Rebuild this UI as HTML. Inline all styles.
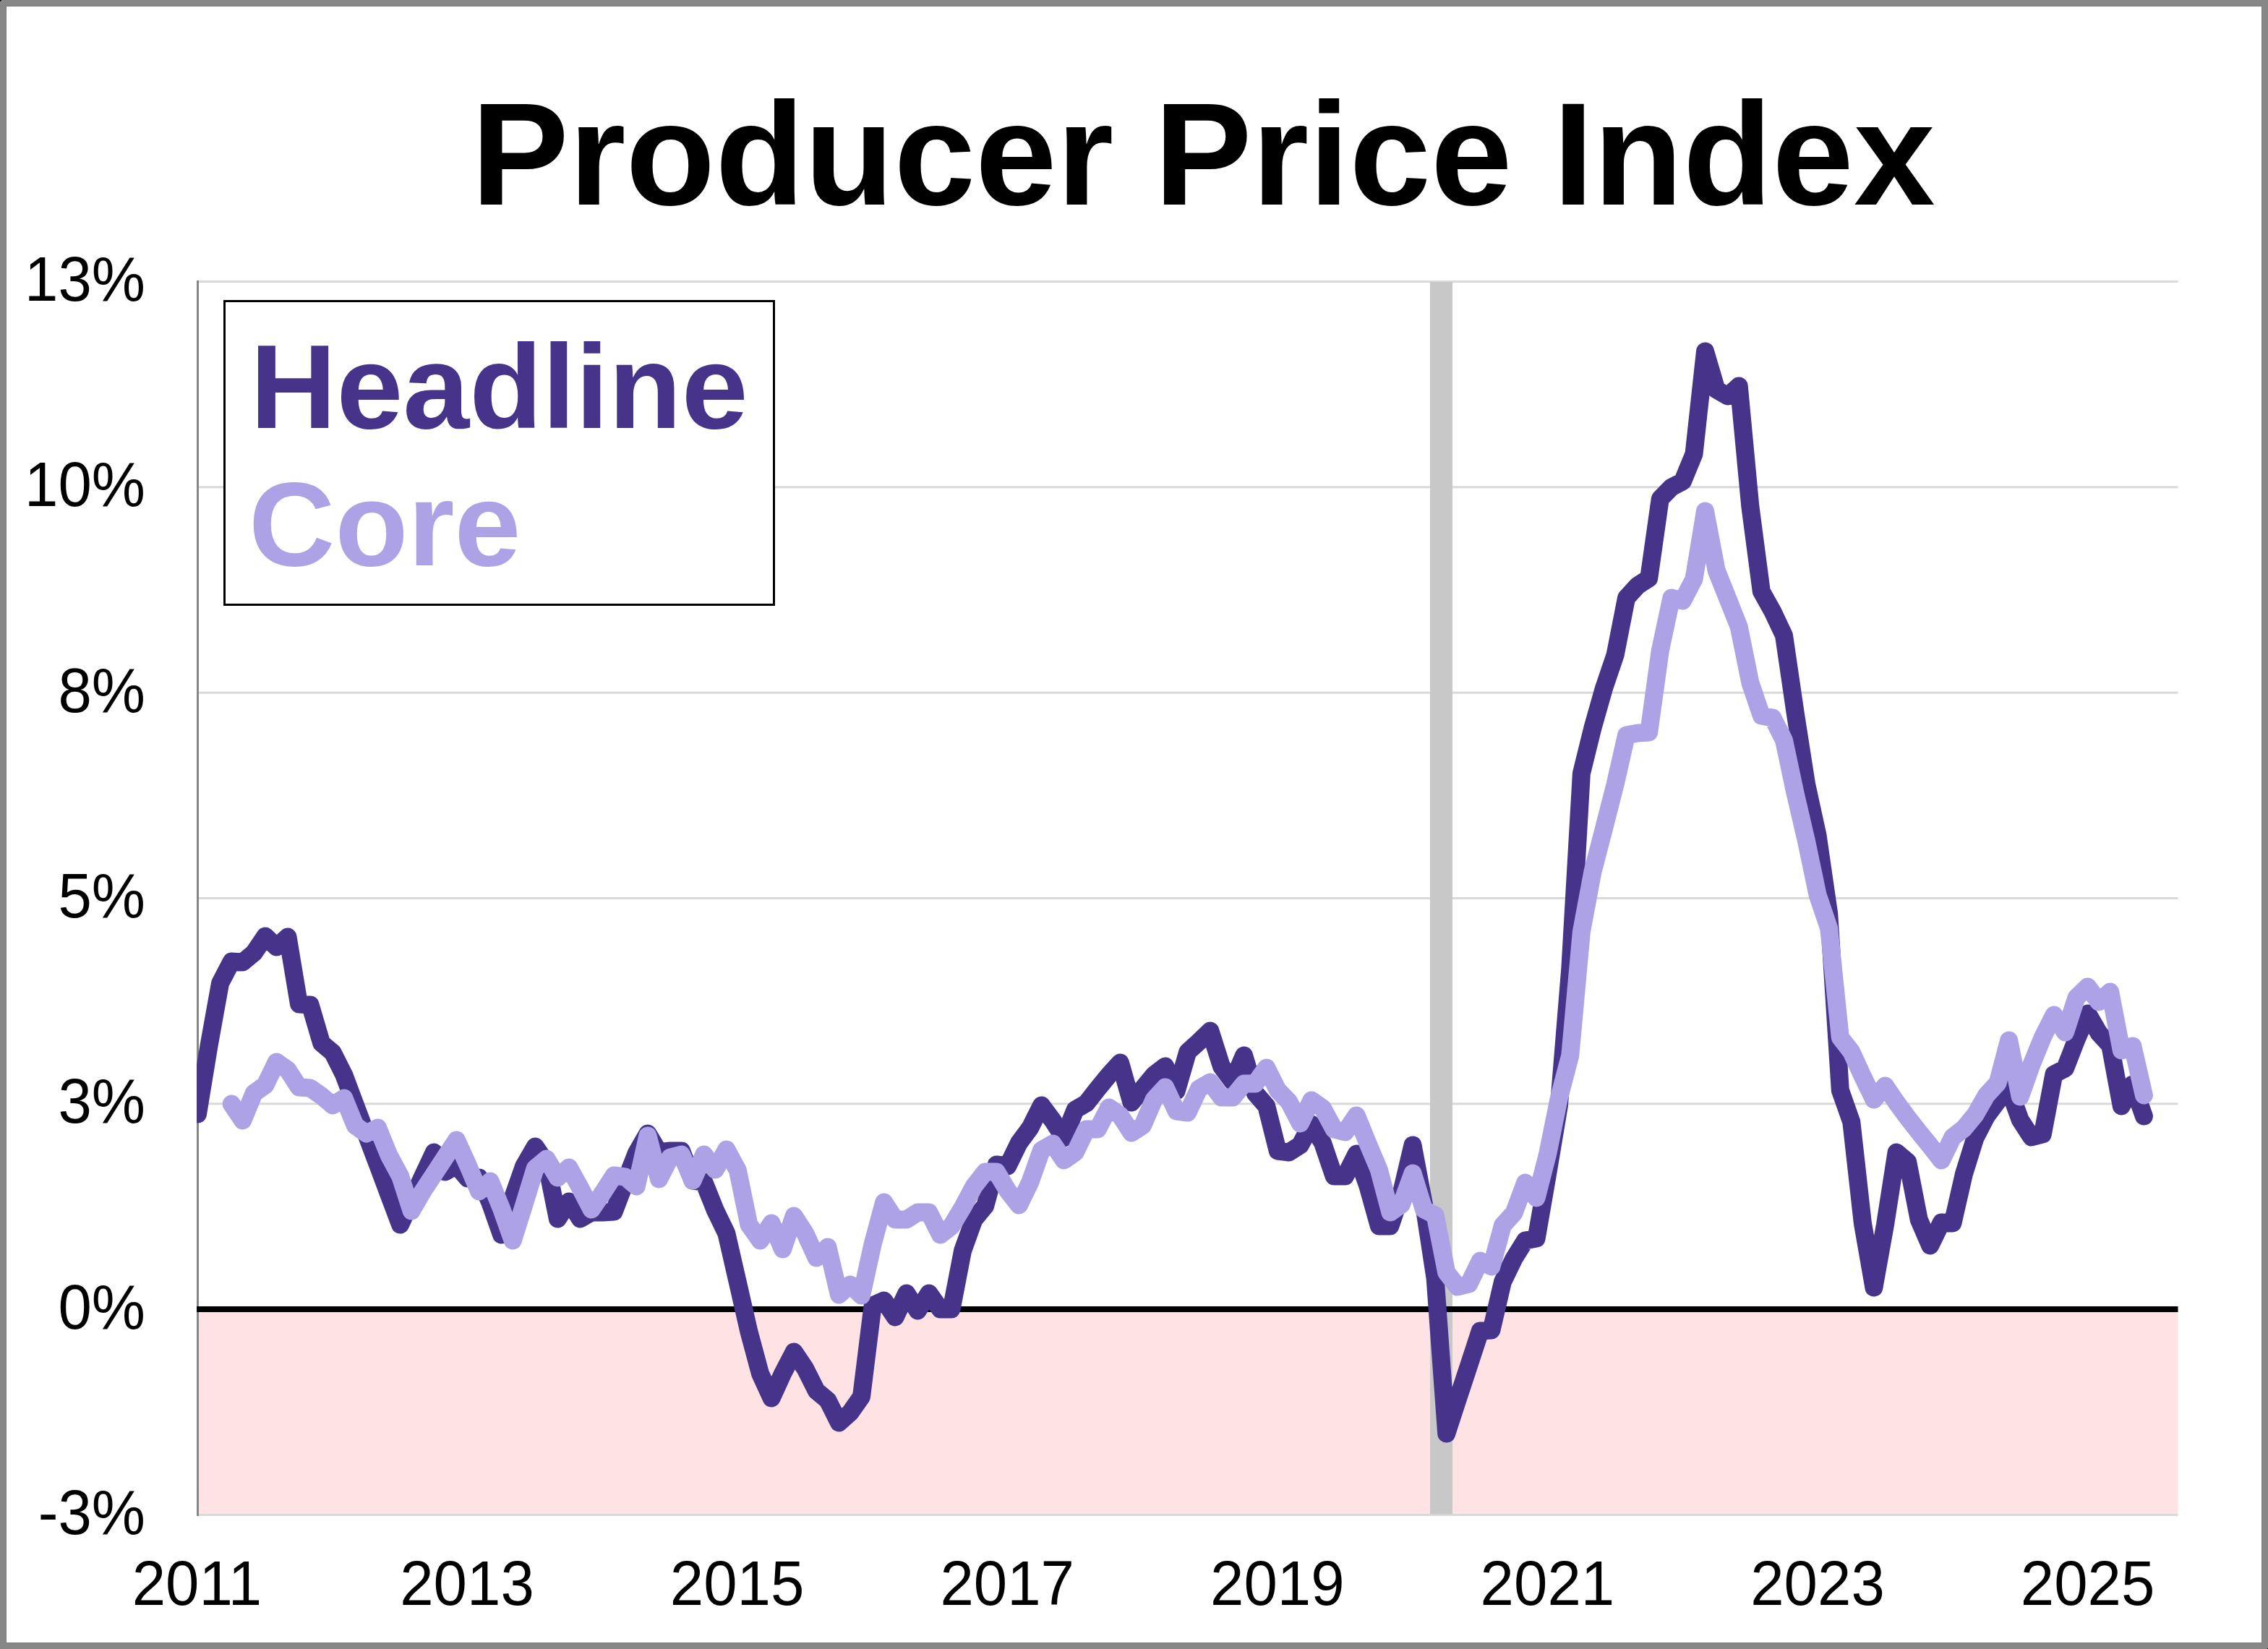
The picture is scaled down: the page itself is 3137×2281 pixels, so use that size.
<!DOCTYPE html>
<html><head><meta charset="utf-8"><style>
html,body{margin:0;padding:0;background:#fff;}
#c{position:relative;width:3137px;height:2281px;background:#fff;overflow:hidden;}
svg{position:absolute;left:0;top:0;font-family:"Liberation Sans",sans-serif;}
</style></head><body><div id="c"><svg width="3137" height="2281" viewBox="0 0 3137 2281">
<rect x="4.5" y="4.5" width="3128" height="2272" fill="none" stroke="#878787" stroke-width="9"/>
<rect x="8.5" y="8.5" width="3120" height="2264" fill="none" stroke="#7c7c7c" stroke-width="1"/>
<rect x="0" y="0" width="2" height="1" fill="#000"/><rect x="0" y="1" width="1" height="1" fill="#000"/><rect x="3136" y="2280" width="1" height="1" fill="#000"/>
<rect x="273.5" y="1811.1666666666667" width="2739.0" height="284.33333333333326" fill="#ffe2e4"/>
<rect x="273.5" y="388.0" width="2739.0" height="3" fill="#d9d9d9"/>
<rect x="273.5" y="672.3333333333333" width="2739.0" height="3" fill="#d9d9d9"/>
<rect x="273.5" y="956.6666666666666" width="2739.0" height="3" fill="#d9d9d9"/>
<rect x="273.5" y="1241.0" width="2739.0" height="3" fill="#d9d9d9"/>
<rect x="273.5" y="1525.3333333333333" width="2739.0" height="3" fill="#d9d9d9"/>
<rect x="273.5" y="2094.0" width="2739.0" height="3" fill="#d9d9d9"/>
<rect x="1978" y="390.0" width="31" height="1704.5" fill="#c8c8c8"/>
<rect x="272" y="388.0" width="3" height="1709.0" fill="#868686"/>
<rect x="272" y="1807" width="2740.5" height="8" fill="#000"/>
<clipPath id="pc"><rect x="272" y="0" width="2800" height="2281"/></clipPath>
<path clip-path="url(#pc)" d="M273.5,1541.0 L289.1,1446.0 L304.6,1360.0 L320.2,1330.0 L335.7,1331.0 L351.3,1318.0 L366.9,1295.0 L382.4,1310.0 L398.0,1296.0 L413.5,1389.0 L429.1,1390.0 L444.7,1443.0 L460.2,1456.0 L475.8,1487.0 L491.3,1528.4 L506.9,1569.8 L522.5,1611.2 L538.0,1652.6 L553.6,1694.0 L569.1,1660.7 L584.7,1627.3 L600.3,1594.0 L615.8,1621.0 L631.4,1612.0 L646.9,1630.0 L662.5,1629.0 L678.1,1664.0 L693.6,1708.0 L709.2,1657.0 L724.7,1613.0 L740.3,1586.0 L755.9,1609.0 L771.4,1686.0 L787.0,1662.0 L802.5,1686.0 L818.1,1677.0 L833.7,1677.0 L849.2,1676.0 L864.8,1635.0 L880.3,1595.0 L895.9,1568.0 L911.5,1594.0 L927.0,1592.0 L942.6,1592.0 L958.1,1633.0 L973.7,1635.0 L989.3,1674.0 L1004.8,1706.0 L1020.4,1774.0 L1035.9,1842.0 L1051.5,1900.0 L1067.1,1934.0 L1082.6,1900.0 L1098.2,1870.0 L1113.7,1893.0 L1129.3,1924.0 L1144.9,1937.0 L1160.4,1968.0 L1176.0,1954.0 L1191.5,1932.0 L1207.1,1806.0 L1222.7,1799.0 L1238.2,1822.0 L1253.8,1789.0 L1269.3,1813.0 L1284.9,1789.0 L1300.5,1811.0 L1316.0,1811.0 L1331.6,1730.0 L1347.1,1687.0 L1362.7,1668.0 L1378.3,1611.0 L1393.8,1613.0 L1409.4,1581.0 L1424.9,1560.0 L1440.5,1529.0 L1456.1,1550.0 L1471.6,1574.0 L1487.2,1535.0 L1502.7,1526.0 L1518.3,1506.0 L1533.9,1487.0 L1549.4,1470.0 L1565.0,1525.0 L1580.5,1506.0 L1596.1,1487.0 L1611.7,1475.0 L1627.2,1509.0 L1642.8,1455.0 L1658.3,1441.0 L1673.9,1426.0 L1689.5,1475.0 L1705.0,1496.0 L1720.6,1460.0 L1736.1,1512.0 L1751.7,1530.0 L1767.3,1592.0 L1782.8,1594.0 L1798.4,1584.0 L1813.9,1555.0 L1829.5,1581.0 L1845.1,1627.0 L1860.6,1627.0 L1876.2,1596.0 L1891.7,1640.0 L1907.3,1696.0 L1922.9,1696.0 L1938.4,1650.0 L1954.0,1584.0 L1969.5,1666.0 L1985.1,1768.0 L2000.7,1983.0 L2016.2,1935.7 L2031.8,1888.3 L2047.3,1841.0 L2062.9,1840.0 L2078.5,1773.0 L2094.0,1741.0 L2109.6,1716.0 L2125.1,1713.0 L2140.7,1623.0 L2156.3,1530.0 L2171.8,1340.0 L2187.4,1070.0 L2202.9,1007.0 L2218.5,952.0 L2234.1,906.0 L2249.6,827.0 L2265.2,810.0 L2280.7,800.0 L2296.3,690.0 L2311.9,674.0 L2327.4,666.0 L2343.0,628.0 L2358.5,486.0 L2374.1,539.0 L2389.7,548.0 L2405.2,534.0 L2420.8,700.0 L2436.3,818.0 L2451.9,846.0 L2467.5,879.0 L2483.0,985.0 L2498.6,1085.0 L2514.1,1156.0 L2529.7,1264.0 L2545.3,1508.0 L2560.8,1552.0 L2576.4,1692.0 L2591.9,1781.0 L2607.5,1694.0 L2623.1,1594.0 L2638.6,1607.0 L2654.2,1687.0 L2669.7,1723.0 L2685.3,1691.0 L2700.9,1692.0 L2716.4,1624.0 L2732.0,1574.0 L2747.5,1544.0 L2763.1,1523.0 L2778.7,1506.0 L2794.2,1549.0 L2809.8,1573.0 L2825.3,1569.0 L2840.9,1486.0 L2856.5,1478.0 L2872.0,1438.0 L2887.6,1402.0 L2903.1,1429.0 L2918.7,1446.0 L2934.3,1530.0 L2949.8,1500.0 L2965.4,1544.0" fill="none" stroke="#46348b" stroke-width="25" stroke-linejoin="round" stroke-linecap="round"/>
<path clip-path="url(#pc)" d="M320.2,1527.0 L335.7,1550.0 L351.3,1512.0 L366.9,1501.0 L382.4,1469.0 L398.0,1480.0 L413.5,1504.0 L429.1,1505.0 L444.7,1516.0 L460.2,1529.0 L475.8,1519.0 L491.3,1557.0 L506.9,1568.0 L522.5,1560.0 L538.0,1598.0 L553.6,1627.0 L569.1,1675.0 L584.7,1648.0 L600.3,1624.3 L615.8,1600.7 L631.4,1577.0 L646.9,1611.0 L662.5,1648.0 L678.1,1634.0 L693.6,1672.0 L709.2,1716.0 L724.7,1667.0 L740.3,1616.0 L755.9,1603.0 L771.4,1629.0 L787.0,1615.0 L802.5,1643.0 L818.1,1673.0 L833.7,1650.0 L849.2,1626.0 L864.8,1628.0 L880.3,1641.0 L895.9,1571.0 L911.5,1631.0 L927.0,1601.0 L942.6,1597.0 L958.1,1633.0 L973.7,1597.0 L989.3,1618.0 L1004.8,1590.0 L1020.4,1619.0 L1035.9,1694.0 L1051.5,1716.0 L1067.1,1692.0 L1082.6,1728.0 L1098.2,1682.0 L1113.7,1706.0 L1129.3,1740.0 L1144.9,1725.0 L1160.4,1791.0 L1176.0,1777.0 L1191.5,1792.0 L1207.1,1721.0 L1222.7,1663.0 L1238.2,1687.0 L1253.8,1687.0 L1269.3,1677.0 L1284.9,1677.0 L1300.5,1708.0 L1316.0,1696.0 L1331.6,1670.0 L1347.1,1641.0 L1362.7,1621.0 L1378.3,1621.0 L1393.8,1647.0 L1409.4,1667.0 L1424.9,1635.0 L1440.5,1591.0 L1456.1,1582.0 L1471.6,1605.0 L1487.2,1594.0 L1502.7,1562.0 L1518.3,1562.0 L1533.9,1532.0 L1549.4,1543.0 L1565.0,1567.0 L1580.5,1557.0 L1596.1,1521.0 L1611.7,1504.0 L1627.2,1537.0 L1642.8,1539.0 L1658.3,1506.0 L1673.9,1497.0 L1689.5,1518.0 L1705.0,1518.0 L1720.6,1499.0 L1736.1,1499.0 L1751.7,1477.0 L1767.3,1508.0 L1782.8,1524.0 L1798.4,1554.0 L1813.9,1522.0 L1829.5,1533.0 L1845.1,1562.0 L1860.6,1566.0 L1876.2,1543.0 L1891.7,1581.0 L1907.3,1618.0 L1922.9,1677.0 L1938.4,1666.0 L1954.0,1623.0 L1969.5,1673.0 L1985.1,1681.0 L2000.7,1760.0 L2016.2,1780.0 L2031.8,1776.0 L2047.3,1744.0 L2062.9,1752.0 L2078.5,1695.0 L2094.0,1678.0 L2109.6,1636.0 L2125.1,1657.0 L2140.7,1596.0 L2156.3,1519.0 L2171.8,1460.0 L2187.4,1289.0 L2202.9,1206.0 L2218.5,1146.0 L2234.1,1085.0 L2249.6,1017.0 L2265.2,1014.0 L2280.7,1013.0 L2296.3,900.0 L2311.9,827.0 L2327.4,831.0 L2343.0,801.0 L2358.5,707.0 L2374.1,789.0 L2389.7,828.0 L2405.2,867.0 L2420.8,944.0 L2436.3,990.0 L2451.9,993.0 L2467.5,1024.0 L2483.0,1097.0 L2498.6,1164.0 L2514.1,1238.0 L2529.7,1284.0 L2545.3,1435.0 L2560.8,1455.0 L2576.4,1489.0 L2591.9,1521.0 L2607.5,1502.0 L2623.1,1525.0 L2638.6,1546.0 L2654.2,1566.0 L2669.7,1585.0 L2685.3,1605.0 L2700.9,1573.0 L2716.4,1561.0 L2732.0,1542.0 L2747.5,1515.0 L2763.1,1498.0 L2778.7,1439.0 L2794.2,1517.0 L2809.8,1473.0 L2825.3,1435.0 L2840.9,1404.0 L2856.5,1428.0 L2872.0,1380.0 L2887.6,1365.0 L2903.1,1386.0 L2918.7,1372.0 L2934.3,1453.0 L2949.8,1447.0 L2965.4,1515.0" fill="none" stroke="#aea2e6" stroke-width="25" stroke-linejoin="round" stroke-linecap="round"/>
<rect x="310.5" y="416.5" width="760" height="420" fill="#fff" stroke="#000" stroke-width="3"/>
<text x="346.1" y="591.5" text-anchor="start" font-size="165.2" font-weight="bold" fill="#46348b">Headline</text>
<text x="344.1" y="781.6" text-anchor="start" font-size="165.2" font-weight="bold" fill="#aea2e6">Core</text>
<text transform="translate(201.0,416.1) scale(0.9611,1)" text-anchor="end" font-size="86.8" fill="#000">13%</text>
<text transform="translate(201.0,700.4) scale(0.9611,1)" text-anchor="end" font-size="86.8" fill="#000">10%</text>
<text transform="translate(201.0,984.8) scale(0.9611,1)" text-anchor="end" font-size="86.8" fill="#000">8%</text>
<text transform="translate(201.0,1269.1) scale(0.9611,1)" text-anchor="end" font-size="86.8" fill="#000">5%</text>
<text transform="translate(201.0,1553.4) scale(0.9611,1)" text-anchor="end" font-size="86.8" fill="#000">3%</text>
<text transform="translate(201.0,1837.8) scale(0.9611,1)" text-anchor="end" font-size="86.8" fill="#000">0%</text>
<text transform="translate(201.0,2122.1) scale(0.9611,1)" text-anchor="end" font-size="86.8" fill="#000">-3%</text>
<text transform="translate(272.4,2220.0) scale(0.9611,1)" text-anchor="middle" font-size="86.8" fill="#000">2011</text>
<text transform="translate(646.0,2220.0) scale(0.9611,1)" text-anchor="middle" font-size="86.8" fill="#000">2013</text>
<text transform="translate(1019.6,2220.0) scale(0.9611,1)" text-anchor="middle" font-size="86.8" fill="#000">2015</text>
<text transform="translate(1393.2,2220.0) scale(0.9611,1)" text-anchor="middle" font-size="86.8" fill="#000">2017</text>
<text transform="translate(1766.8,2220.0) scale(0.9611,1)" text-anchor="middle" font-size="86.8" fill="#000">2019</text>
<text transform="translate(2140.4,2220.0) scale(0.9611,1)" text-anchor="middle" font-size="86.8" fill="#000">2021</text>
<text transform="translate(2514.0,2220.0) scale(0.9611,1)" text-anchor="middle" font-size="86.8" fill="#000">2023</text>
<text transform="translate(2887.6,2220.0) scale(0.9611,1)" text-anchor="middle" font-size="86.8" fill="#000">2025</text>
<text x="651.8" y="283.0" text-anchor="start" font-size="202.4" font-weight="bold" fill="#000">Producer Price Index</text>
</svg></div></body></html>
